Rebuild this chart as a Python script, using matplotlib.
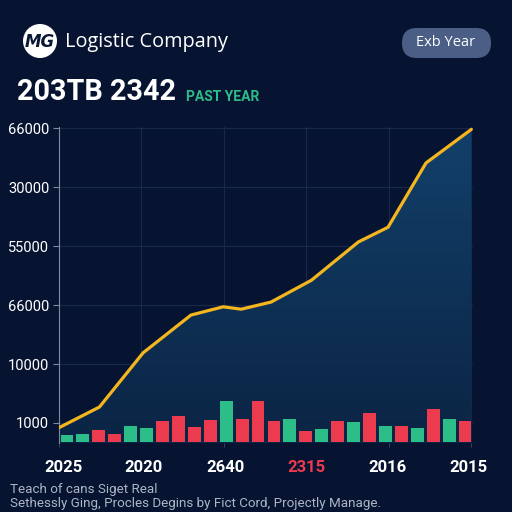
import numpy as np
import matplotlib
matplotlib.use('Agg')
import matplotlib.pyplot as plt
from matplotlib.patches import Circle, FancyBboxPatch, Polygon

# valores (unidades = posición de marca)
etiquetas_x = ['2025', '2020', '2640', '2315', '2016', '2015']
pos_etiquetas_x = [0.05, 1.03, 2.02, 3.0, 3.98, 4.96]
etiquetas_y = ['1000', '10000', '66000', '55000', '30000', '66000']

linea_x = [0, 0.49, 1.02, 1.6, 1.99, 2.21, 2.57, 3.06, 3.63, 3.99, 4.45, 5.0]
linea_y = [-0.08, 0.27, 1.19, 1.83, 1.97, 1.93, 2.05, 2.42, 3.07, 3.32, 4.41, 4.98]

barras = [0.11, 0.14, 0.20, 0.14, 0.27, 0.23, 0.35, 0.43, 0.25, 0.37, 0.69, 0.39, 0.69,
          0.35, 0.38, 0.18, 0.22, 0.36, 0.34, 0.49, 0.27, 0.27, 0.24, 0.55, 0.38, 0.35]
tipos = ['s', 's', 'b', 'b', 's', 's', 'b', 'b', 'b', 'b', 's', 'b', 'b',
         'b', 's', 'b', 's', 'b', 's', 'b', 's', 'b', 's', 'b', 's', 'b']

fondo = '#071431'
verde = '#2dbd89'
rojo = '#ec3a4f'
oro = '#f3b61f'
base = -0.32

fig = plt.figure(figsize=(5.12, 5.12), dpi=100, facecolor=fondo)
ax = fig.add_axes([59 / 512, 1 - 443 / 512, 414 / 512, 316 / 512])
ax.set_facecolor(fondo)
ax.set_xlim(0, 5.02)
ax.set_ylim(base - 0.02, 5.02)

# relleno con degradado bajo la línea
xs = np.array(linea_x)
ys = np.array(linea_y)
poli = Polygon(np.column_stack([np.r_[xs, xs[-1], xs[0]], np.r_[ys, base - 0.02, base - 0.02]]),
               closed=True, facecolor='none', edgecolor='none')
ax.add_patch(poli)
grad = np.linspace(1, 0, 200).reshape(-1, 1)
cmap = matplotlib.colors.LinearSegmentedColormap.from_list('g', ['#0b2444', '#12406a'])
im = ax.imshow(grad, extent=[0, 5.0, base - 0.02, 5.0], aspect='auto', cmap=cmap,
               origin='upper', zorder=1)
im.set_clip_path(poli)

# cuadrícula
for k in range(6):
    ax.axhline(k, color='#16294a', lw=0.8, zorder=0.5)
    ax.axvline(k, color='#16294a', lw=0.8, zorder=0.5)

# barras
ranura = 5.02 / len(barras)
pos = (np.arange(len(barras)) + 0.5) * ranura
cols = [verde if t == 's' else rojo for t in tipos]
ax.bar(pos, barras, width=ranura * 0.81, bottom=base, color=cols, zorder=3)

ax.plot(linea_x, linea_y, color=oro, lw=2.3, zorder=4, solid_capstyle='round')

for s in ['top', 'right', 'bottom']:
    ax.spines[s].set_visible(False)
ax.spines['left'].set_color('#7d8aa5')
ax.spines['left'].set_linewidth(0.8)

ax.set_yticks(range(6))
ax.set_yticklabels(etiquetas_y, color='white', fontsize=10.5, family='Roboto')
ax.set_xticks(pos_etiquetas_x)
ax.set_xticklabels(etiquetas_x, color='white', fontsize=12, family='Roboto', fontweight='bold')
ax.get_xticklabels()[3].set_color(rojo)
ax.set_xticks([0, 2, 4, 5], minor=True)
ax.tick_params(axis='y', length=4, color='#7d8aa5', pad=3)
ax.tick_params(axis='x', which='major', length=0, pad=12)
ax.tick_params(axis='x', which='minor', length=3, color='#3b4a66')

# encabezado
fig.patches.append(Circle((40 / 512, 1 - 41 / 512), 17 / 512, transform=fig.transFigure,
                          facecolor='white', edgecolor='none'))
fig.text(40 / 512, 1 - 42 / 512, 'MG', color='#0a1836', fontsize=12, fontweight='bold',
         style='italic', ha='center', va='center', family='DejaVu Sans')
fig.text(65 / 512, 1 - 42 / 512, 'Logistic Company', color='white', fontsize=14.3,
         ha='left', va='center', family='Open Sans')
fig.patches.append(FancyBboxPatch((402 / 512, 1 - 58 / 512), 89 / 512, 30 / 512,
                                  boxstyle='round,pad=0,rounding_size=0.029',
                                  transform=fig.transFigure, facecolor='#4b5e85', edgecolor='none'))
fig.text(446 / 512, 1 - 43 / 512, 'Exb Year', color='white', fontsize=10.5,
         ha='center', va='center', family='Open Sans')
fig.text(17 / 512, 1 - 92 / 512, '203TB 2342', color='white', fontsize=20.7, fontweight='bold',
         ha='left', va='center', family='Roboto')
fig.text(186 / 512, 1 - 97 / 512, 'PAST YEAR', color=verde, fontsize=10, fontweight='bold',
         ha='left', va='center', family='Roboto')

# pie
fig.text(10 / 512, 1 - 490 / 512, 'Teach of cans Siget Real', color='#aeb6c6', fontsize=9.6,
         ha='left', va='center', family='Roboto')
fig.text(10 / 512, 1 - 503 / 512, 'Sethessly Ging, Procles Degins by Fict Cord, Projectly Manage.',
         color='#aeb6c6', fontsize=9.6, ha='left', va='center', family='Roboto')

fig.savefig('out.png', dpi=100, facecolor=fondo)
